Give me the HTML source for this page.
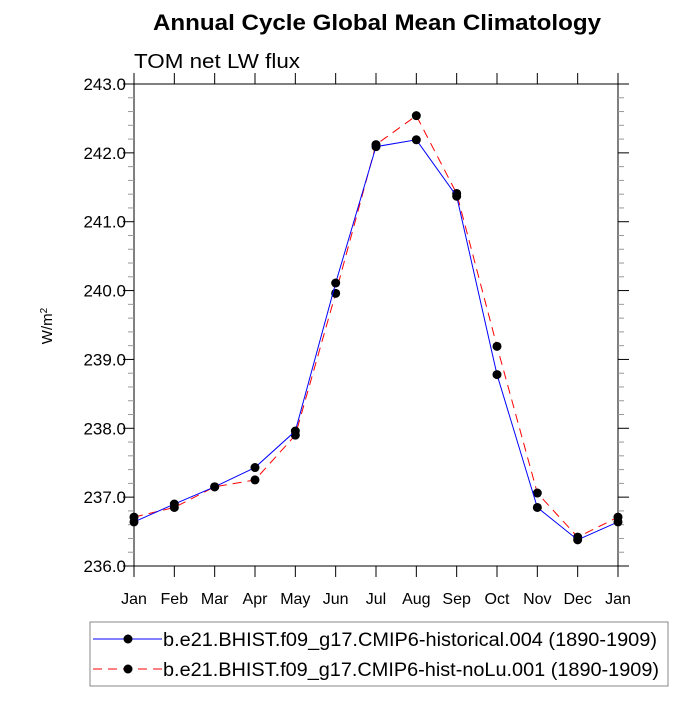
<!DOCTYPE html>
<html><head><meta charset="utf-8"><style>
body{margin:0;background:#fff;}
svg text{font-family:"Liberation Sans",sans-serif;}
</style></head><body>
<svg id="chart" width="700" height="700" viewBox="0 0 700 700" xmlns="http://www.w3.org/2000/svg">
<text x="153" y="30" font-size="22" font-weight="bold" textLength="448" lengthAdjust="spacingAndGlyphs">Annual Cycle Global Mean Climatology</text>
<text x="134" y="68" font-size="20" textLength="166" lengthAdjust="spacingAndGlyphs">TOM net LW flux</text>
<text transform="translate(52,326) rotate(-90)" font-size="15" text-anchor="middle">W/m<tspan dy="-5" font-size="10">2</tspan></text>
<rect x="134" y="84" width="484" height="482" fill="none" stroke="#000" stroke-width="1"/>
<g id="axes"></g>
<g id="series"></g>
<g>
<rect x="90" y="622" width="578" height="64" fill="#fff" stroke="#888" stroke-width="1"/>
<line x1="93" y1="639" x2="162" y2="639" stroke="#00f" stroke-width="1"/>
<circle cx="128" cy="639" r="4.5" fill="#000"/>
<text x="163" y="646" font-size="19" textLength="494" lengthAdjust="spacingAndGlyphs">b.e21.BHIST.f09_g17.CMIP6-historical.004 (1890-1909)</text>
<line x1="93" y1="669" x2="162" y2="669" stroke="#f00" stroke-width="1" stroke-dasharray="9,6"/>
<circle cx="128" cy="669" r="4.5" fill="#000"/>
<text x="163" y="676" font-size="19" textLength="496" lengthAdjust="spacingAndGlyphs">b.e21.BHIST.f09_g17.CMIP6-hist-noLu.001 (1890-1909)</text>
</g>
</svg>
<script>
const months=["Jan","Feb","Mar","Apr","May","Jun","Jul","Aug","Sep","Oct","Nov","Dec","Jan"];
const historical=[236.64,236.90,237.15,237.43,237.96,240.11,242.09,242.19,241.37,238.78,236.85,236.38,236.64];
const histNoLu=[236.71,236.85,237.15,237.25,237.90,239.96,242.12,242.54,241.41,239.19,237.06,236.42,236.71];
const yTicks=[236,237,238,239,240,241,242,243];
const NS="http://www.w3.org/2000/svg";
const X0=134,X1=618,Y0=566,Y1=84,YMIN=236,YMAX=243;
function xs(i){return X0+(X1-X0)*i/(months.length-1);}
function ys(v){return Y0-(Y0-Y1)*(v-YMIN)/(YMAX-YMIN);}
function mk(tag,attrs,parent){const e=document.createElementNS(NS,tag);for(const k in attrs)e.setAttribute(k,attrs[k]);parent.appendChild(e);return e;}
const axes=document.getElementById('axes');
months.forEach((m,i)=>{
  const x=xs(i);
  const t=mk('line',{x1:x,y1:Y0,x2:x,y2:Y0+11,stroke:'#000'},axes);
  
  
  const t2=mk('line',{x1:x,y1:Y1,x2:x,y2:Y1-11,stroke:'#000'},axes);
  
  
  const l=mk('text',{x:x,y:Y0+38,'font-size':16,'text-anchor':'middle'},axes);
  l.textContent=m;
  
  
});
for(let v=YMIN;v<=YMAX+1e-9;v+=0.2){
  const y=ys(v);const major=Math.abs(v-Math.round(v))<1e-6;
  const len=major?11:6;const col=major?'#000':'#999';
  const a=mk('line',{x1:X0-len,y1:y,x2:X0,y2:y,stroke:col},axes);
  
  
  const b=mk('line',{x1:X1,y1:y,x2:X1+len,y2:y,stroke:col},axes);
  
  
}
yTicks.forEach(v=>{
  const l=mk('text',{x:X0-8,y:ys(v)+6,'font-size':17,'text-anchor':'end'},axes);
  l.textContent=v.toFixed(1);
  
  
});
const sg=document.getElementById('series');
function drawSeries(vals,color,dash,name){
  const pts=vals.map((v,i)=>xs(i)+','+ys(v)).join(' ');
  const p=mk('polyline',{points:pts,fill:'none',stroke:color,'stroke-width':1,'stroke-dasharray':dash},sg);
  
  
  vals.forEach((v,i)=>{
    const c=mk('circle',{cx:xs(i),cy:ys(v),r:4.5,fill:'#000'},sg);
    
    
  });
}
drawSeries(histNoLu,'#f00','9,6','hist-nolu');
drawSeries(historical,'#00f','none','historical');
</script>
</body></html>
